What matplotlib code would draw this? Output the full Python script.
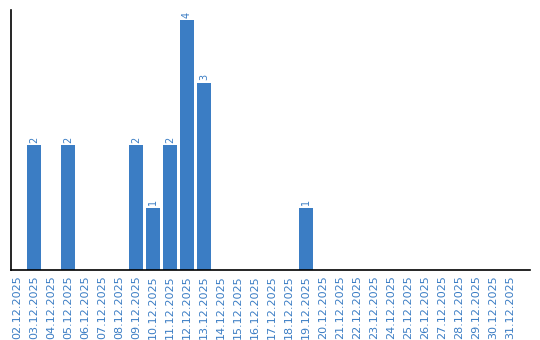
import matplotlib
matplotlib.use("Agg")
import matplotlib.pyplot as plt

dates = [f"{d:02d}.12.2025" for d in range(2, 32)]
counts = [0, 2, 0, 2, 0, 0, 0, 2, 1, 2, 4, 3, 0, 0, 0, 0, 0, 1,
          0, 0, 0, 0, 0, 0, 0, 0, 0, 0, 0, 0]

color = "#3b7dc4"
fig = plt.figure(figsize=(5.4, 3.4), dpi=100)
ax = fig.add_axes([11/540, 70/340, 519/540, 260/340])
x = list(range(len(dates)))
ax.bar(x, counts, width=0.82, color=color)
for xi, c in zip(x, counts):
    if c > 0:
        ax.text(xi, c + 0.04, str(c), rotation=90, ha="center", va="bottom",
                fontsize=7, color=color)
ax.set_xlim(-0.35, 30.18)
ax.set_ylim(0, 4.16)
ax.set_xticks(x)
ax.set_xticklabels(dates, rotation=90, fontsize=8, color=color)
ax.tick_params(axis="x", length=0, pad=4)
ax.set_yticks([])
for s in ["top", "right"]:
    ax.spines[s].set_visible(False)
for s in ["left", "bottom"]:
    ax.spines[s].set_linewidth(1.2)
fig.savefig("out.png", dpi=100)
